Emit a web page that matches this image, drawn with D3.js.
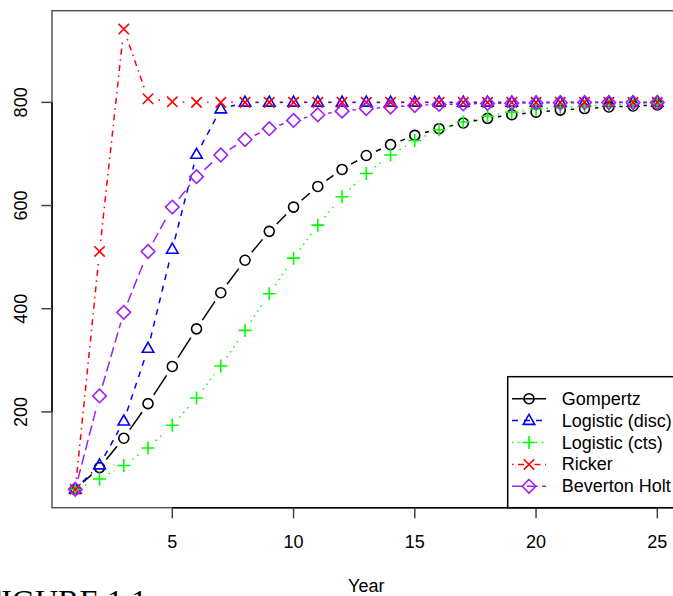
<!DOCTYPE html>
<html>
<head>
<meta charset="utf-8">
<script src="https://cdn.jsdelivr.net/npm/d3@7.9.0/dist/d3.min.js"></script>
<style>
  body { margin: 0; background: #fff; }
  svg { display: block; }
  text { font-family: "Liberation Sans", Arial, sans-serif; font-size: 18px; fill: #000; }
</style>
</head>
<body>
<svg id="chart" width="673" height="596"></svg>
<script>
const years = [1, 2, 3, 4, 5, 6, 7, 8, 9, 10, 11, 12, 13, 14, 15, 16, 17, 18, 19, 20, 21, 22, 23, 24, 25];

const gompertz = [50, 92, 149, 216, 288, 361, 431, 494, 550, 597, 637, 670, 697, 718, 736, 749, 760, 769, 776, 781, 785, 788, 791, 793, 795];
const logisticDisc = [50, 97, 182, 323, 515, 699, 787, 800, 800, 800, 800, 800, 800, 800, 800, 800, 800, 800, 800, 800, 800, 800, 800, 800, 800];
const logisticCts = [50, 70, 96, 130, 174, 227, 289, 358, 429, 498, 562, 617, 662, 698, 726, 747, 762, 773, 781, 787, 790, 793, 795, 797, 798];
const ricker = [50, 511, 942, 807, 801, 800, 800, 800, 800, 800, 800, 800, 800, 800, 800, 800, 800, 800, 800, 800, 800, 800, 800, 800, 800];
const bevertonHolt = [50, 231, 393, 511, 597, 656, 698, 728, 749, 765, 776, 783, 788, 791, 794, 796, 797, 798, 798.5, 799, 799.3, 799.5, 799.6, 799.7, 799.8];

const seriesNames = ['Gompertz', 'Logistic (disc)', 'Logistic (cts)', 'Ricker', 'Beverton Holt'];
const seriesValues = [gompertz, logisticDisc, logisticCts, ricker, bevertonHolt];
const seriesColors = ['#000000', '#0000ff', '#00ff00', '#ff0000', '#a020f0'];
const seriesDash = [null, '6,6', '1.5,4.5', '1.5,4.5,6,4.5', '10.5,4.5'];
const seriesShape = ['circle', 'triangle', 'plus', 'cross', 'diamond'];

const xTicks = [5, 10, 15, 20, 25];
const yTicks = [200, 400, 600, 800];

const svg = d3.select('#chart');

// R style: range padded by 4% on each side
const allVals = seriesValues.flat();
const yMin = d3.min(allVals), yMax = d3.max(allVals);
const yPad = (yMax - yMin) * 0.04;
const xPad = (d3.max(years) - d3.min(years)) * 0.04;

const plotLeft = 52, plotRight = 680.6, plotTop = 10.7, plotBottom = 507.7;

const x = d3.scaleLinear().domain([d3.min(years) - xPad, d3.max(years) + xPad]).range([plotLeft, plotRight]);
const y = d3.scaleLinear().domain([yMin - yPad, yMax + yPad]).range([plotBottom, plotTop]);

function symbolPath(shape, cx, cy) {
  if (shape === 'circle') {
    const r = 5;
    return `M${cx + r},${cy}A${r},${r} 0 1 1 ${cx - r},${cy}A${r},${r} 0 1 1 ${cx + r},${cy}Z`;
  }
  if (shape === 'triangle') {
    const s = 11.5, h = s * 0.866;
    return `M${cx},${cy - h * 0.62}L${cx + s / 2},${cy + h * 0.38}L${cx - s / 2},${cy + h * 0.38}Z`;
  }
  if (shape === 'plus') {
    const a = 6.5;
    return `M${cx - a},${cy}L${cx + a},${cy}M${cx},${cy - a}L${cx},${cy + a}`;
  }
  if (shape === 'cross') {
    const a = 5.2;
    return `M${cx - a},${cy - a}L${cx + a},${cy + a}M${cx - a},${cy + a}L${cx + a},${cy - a}`;
  }
  const a = 6.8;
  return `M${cx},${cy - a}L${cx + a},${cy}L${cx},${cy + a}L${cx - a},${cy}Z`;
}

// box
svg.append('rect')
  .attr('x', plotLeft).attr('y', plotTop)
  .attr('width', plotRight - plotLeft).attr('height', plotBottom - plotTop)
  .attr('fill', 'none').attr('stroke', '#555').attr('stroke-width', 1.5);

// series, type = "b": segments with gaps around the points
const gap = 10.5;
const plot = svg.append('g');
seriesValues.forEach((vals, i) => {
  const g = plot.append('g');
  const pts = years.map((yr, j) => [x(yr), y(vals[j])]);
  for (let j = 0; j < pts.length - 1; j++) {
    const [x0, y0] = pts[j], [x1, y1] = pts[j + 1];
    const len = Math.hypot(x1 - x0, y1 - y0);
    if (len <= 2 * gap) continue;
    const ux = (x1 - x0) / len, uy = (y1 - y0) / len;
    g.append('line')
      .attr('x1', x0 + ux * gap).attr('y1', y0 + uy * gap)
      .attr('x2', x1 - ux * gap).attr('y2', y1 - uy * gap)
      .attr('stroke', seriesColors[i])
      .attr('stroke-width', 1.5)
      .attr('stroke-dasharray', seriesDash[i]);
  }
  g.selectAll('path.pt')
    .data(pts)
    .join('path')
    .attr('class', 'pt')
    .attr('d', d => symbolPath(seriesShape[i], d[0], d[1]))
    .attr('fill', 'none')
    .attr('stroke', seriesColors[i])
    .attr('stroke-width', 1.6);
});

// x axis
const xAxis = svg.append('g');
xAxis.append('line')
  .attr('x1', x(xTicks[0])).attr('x2', x(xTicks[xTicks.length - 1]))
  .attr('y1', plotBottom).attr('y2', plotBottom)
  .attr('stroke', '#000').attr('stroke-width', 1.5);
xTicks.forEach(t => {
  xAxis.append('line')
    .attr('x1', x(t)).attr('x2', x(t))
    .attr('y1', plotBottom).attr('y2', plotBottom + 10.6)
    .attr('stroke', '#444').attr('stroke-width', 1.5);
  xAxis.append('text')
    .attr('x', x(t)).attr('y', 548)
    .attr('text-anchor', 'middle')
    .text(t);
});

// y axis
const yAxis = svg.append('g');
yAxis.append('line')
  .attr('x1', plotLeft).attr('x2', plotLeft)
  .attr('y1', y(yTicks[0])).attr('y2', y(yTicks[yTicks.length - 1]))
  .attr('stroke', '#000').attr('stroke-width', 1.5);
yTicks.forEach(t => {
  yAxis.append('line')
    .attr('x1', plotLeft - 10.6).attr('x2', plotLeft)
    .attr('y1', y(t)).attr('y2', y(t))
    .attr('stroke', '#444').attr('stroke-width', 1.5);
  yAxis.append('text')
    .attr('transform', `translate(26.5,${y(t)}) rotate(-90)`)
    .attr('text-anchor', 'middle')
    .text(t);
});

svg.append('text')
  .attr('x', (plotLeft + plotRight) / 2).attr('y', 591.5)
  .attr('text-anchor', 'middle')
  .text('Year');

// legend (bottomright)
const legend = svg.append('g');
const legX = 507.7, legTop = 376.7;
legend.append('rect')
  .attr('x', legX).attr('y', legTop)
  .attr('width', plotRight - legX).attr('height', plotBottom - legTop)
  .attr('fill', '#fff').attr('stroke', '#000').attr('stroke-width', 1.5);
seriesNames.forEach((name, i) => {
  const cy = 398.7 + i * 21.9;
  legend.append('line')
    .attr('x1', 512).attr('x2', 546)
    .attr('y1', cy).attr('y2', cy)
    .attr('stroke', seriesColors[i])
    .attr('stroke-width', 1.5)
    .attr('stroke-dasharray', seriesDash[i]);
  legend.append('path')
    .attr('d', symbolPath(seriesShape[i], 529, cy))
    .attr('fill', 'none')
    .attr('stroke', seriesColors[i])
    .attr('stroke-width', 1.6);
  legend.append('text')
    .attr('x', 561.7).attr('y', cy + 6)
    .text(name);
});

svg.append('text')
  .attr('x', -16.6).attr('y', 612)
  .style('font-family', '"Liberation Serif", "Times New Roman", serif')
  .style('font-size', '32px')
  .text('FIGURE 1.1');
</script>
</body>
</html>
